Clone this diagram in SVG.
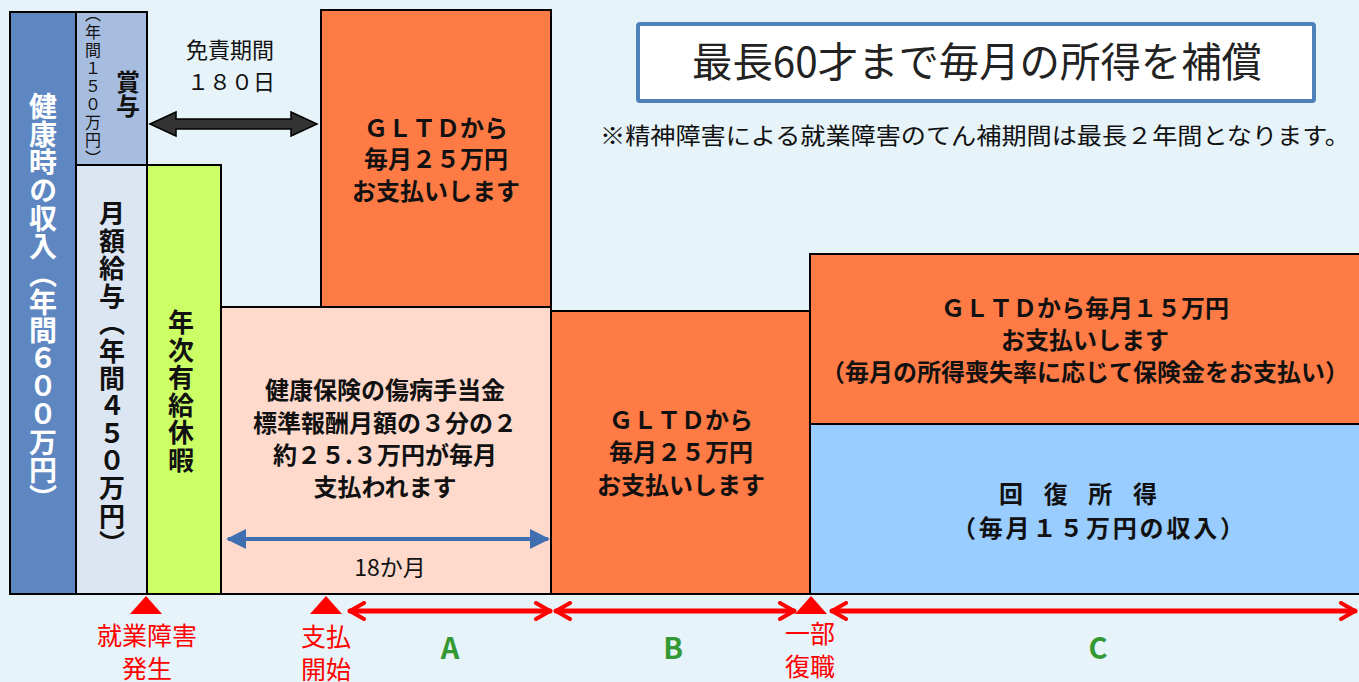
<svg xmlns="http://www.w3.org/2000/svg" width="1359" height="682" viewBox="0 0 1359 682">
<style>
text{font-family:"Noto Sans CJK JP","Noto Sans",sans-serif}
.box{stroke:#000;stroke-width:2}
.b{font-weight:bold;font-size:24px;fill:#111;text-anchor:middle}
.v{writing-mode:vertical-rl;text-anchor:middle}
.red{fill:#FF0000;font-size:25px;text-anchor:middle}
.ltr{fill:#339933;font-size:29px;font-weight:bold;text-anchor:middle}
.rl{stroke:#FF0000;stroke-width:5;fill:none;stroke-linecap:round;stroke-linejoin:round}
</style>
<defs>
<marker id="chev" viewBox="0 0 10 10" refX="9" refY="5" markerWidth="4" markerHeight="4" orient="auto-start-reverse" markerUnits="strokeWidth">
<path d="M2,1 L9,5 L2,9" fill="none" stroke="#FF0000" stroke-width="2" stroke-linecap="round" stroke-linejoin="round"/>
</marker>
<marker id="bl" viewBox="0 0 10 10" refX="9" refY="5" markerWidth="5" markerHeight="5" orient="auto-start-reverse" markerUnits="strokeWidth">
<path d="M0,0 L10,5 L0,10 Z" fill="#3F6FB0"/>
</marker>
</defs>
<rect width="1359" height="682" fill="#E6F3F8"/>

<g id="income">
<rect class="box" x="10" y="12" width="66" height="582" fill="#5E87C2"/>
<text class="v" x="43" y="302" font-size="28" font-weight="bold" fill="#fff">健康時の収入（年間６００万円）</text>
</g>
<g id="bonus">
<rect class="box" x="76" y="12" width="71" height="153" fill="#A6BDDF"/>
<text class="v" x="93" y="87" font-size="16" fill="#111" letter-spacing="2">（年間１５０万円）</text>
<text class="v" x="128" y="94" font-size="24" font-weight="bold" fill="#111">賞与</text>
</g>
<g id="salary">
<rect class="box" x="76" y="165" width="71" height="429" fill="#DCE6F2"/>
<text class="v" x="112" y="379" font-size="26" font-weight="bold" fill="#111" letter-spacing="1.5">月額給与（年間４５０万円）</text>
</g>
<g id="leave">
<rect class="box" x="147" y="165" width="74" height="429" fill="#CCFF66"/>
<text class="v" x="181" y="392" font-size="26" font-weight="bold" fill="#111" letter-spacing="1.5">年次有給休暇</text>
</g>
<g id="sickness">
<rect class="box" x="221" y="307" width="330" height="287" fill="#FDDACB"/>
<text class="b" x="385" y="399" font-size="25.5">健康保険の傷病手当金</text>
<text class="b" x="385" y="432" font-size="25.5">標準報酬月額の３分の２</text>
<text class="b" x="385" y="464" font-size="25.5">約２５.３万円が毎月</text>
<text class="b" x="385" y="496" font-size="25.5">支払われます</text>
<text x="390" y="576" font-size="23" text-anchor="middle" fill="#111">18か月</text>
</g>
<g id="gltd-a">
<rect class="box" x="321" y="10" width="230" height="297" fill="#FF7B45"/>
<text class="b" x="436" y="137">ＧＬＴＤから</text>
<text class="b" x="436" y="168">毎月２５万円</text>
<text class="b" x="436" y="200">お支払いします</text>
</g>
<g id="gltd-b">
<rect class="box" x="551" y="311" width="259" height="283" fill="#FF7B45"/>
<text class="b" x="681" y="429">ＧＬＴＤから</text>
<text class="b" x="681" y="461">毎月２５万円</text>
<text class="b" x="681" y="494">お支払いします</text>
</g>
<g id="gltd-c">
<rect class="box" x="810" y="254" width="560" height="170" fill="#FF7B45"/>
<text class="b" x="1085" y="317">ＧＬＴＤから毎月１５万円</text>
<text class="b" x="1085" y="349">お支払いします</text>
<text class="b" x="1085" y="381">（毎月の所得喪失率に応じて保険金をお支払い）</text>
</g>
<g id="recovery">
<rect class="box" x="810" y="424" width="560" height="170" fill="#99CCFF"/>
<text class="b" x="1078" y="503" font-size="26" textLength="158" lengthAdjust="spacing">回 復 所 得</text>
<text class="b" x="1098" y="537" font-size="26" textLength="292" lengthAdjust="spacing">（毎月１５万円の収入）</text>
</g>
<g id="title">
<rect x="638" y="24" width="676" height="77" fill="#fff" stroke="#4F81BD" stroke-width="4" rx="2"/>
<text x="977" y="77" font-size="41" text-anchor="middle" fill="#222" textLength="570" lengthAdjust="spacingAndGlyphs">最長60才まで毎月の所得を補償</text>
</g>
<g id="note">
<text x="600" y="144" font-size="23" fill="#111" textLength="750" lengthAdjust="spacingAndGlyphs">※精神障害による就業障害のてん補期間は最長２年間となります。</text>
</g>
<g id="waiting">
<text x="230" y="58" font-size="22" text-anchor="middle" fill="#111">免責期間</text>
<text x="231" y="90" font-size="22" text-anchor="middle" fill="#111">１８０日</text>
</g>

<g id="connectors">
<path d="M150,124 L176,112 L176,119 L291,119 L291,112 L317,124 L291,136 L291,129 L176,129 L176,136 Z" fill="#333" stroke="#000" stroke-width="1.5"/>
<line x1="228" y1="539" x2="548" y2="539" stroke="#3F6FB0" stroke-width="4" marker-start="url(#bl)" marker-end="url(#bl)"/>
<line class="rl" x1="350" y1="611" x2="550" y2="611" marker-start="url(#chev)" marker-end="url(#chev)"/>
<line class="rl" x1="556" y1="611" x2="794" y2="611" marker-start="url(#chev)" marker-end="url(#chev)"/>
<line class="rl" x1="832" y1="611" x2="1355" y2="611" marker-start="url(#chev)" marker-end="url(#chev)"/>
<path d="M146,596 L162,614 L130,614 Z" fill="#FF0000"/>
<path d="M326,596 L342,614 L310,614 Z" fill="#FF0000"/>
<path d="M811,596 L827,614 L795,614 Z" fill="#FF0000"/>
</g>

<g id="labels">
<text class="red" x="147" y="645">就業障害</text>
<text class="red" x="147" y="678">発生</text>
<text class="red" x="326" y="646">支払</text>
<text class="red" x="326" y="679">開始</text>
<text class="red" x="810" y="643">一部</text>
<text class="red" x="810" y="676">復職</text>
<text class="ltr" x="450" y="659">A</text>
<text class="ltr" x="673" y="659">B</text>
<text class="ltr" x="1098" y="659">C</text>
</g>
</svg>
